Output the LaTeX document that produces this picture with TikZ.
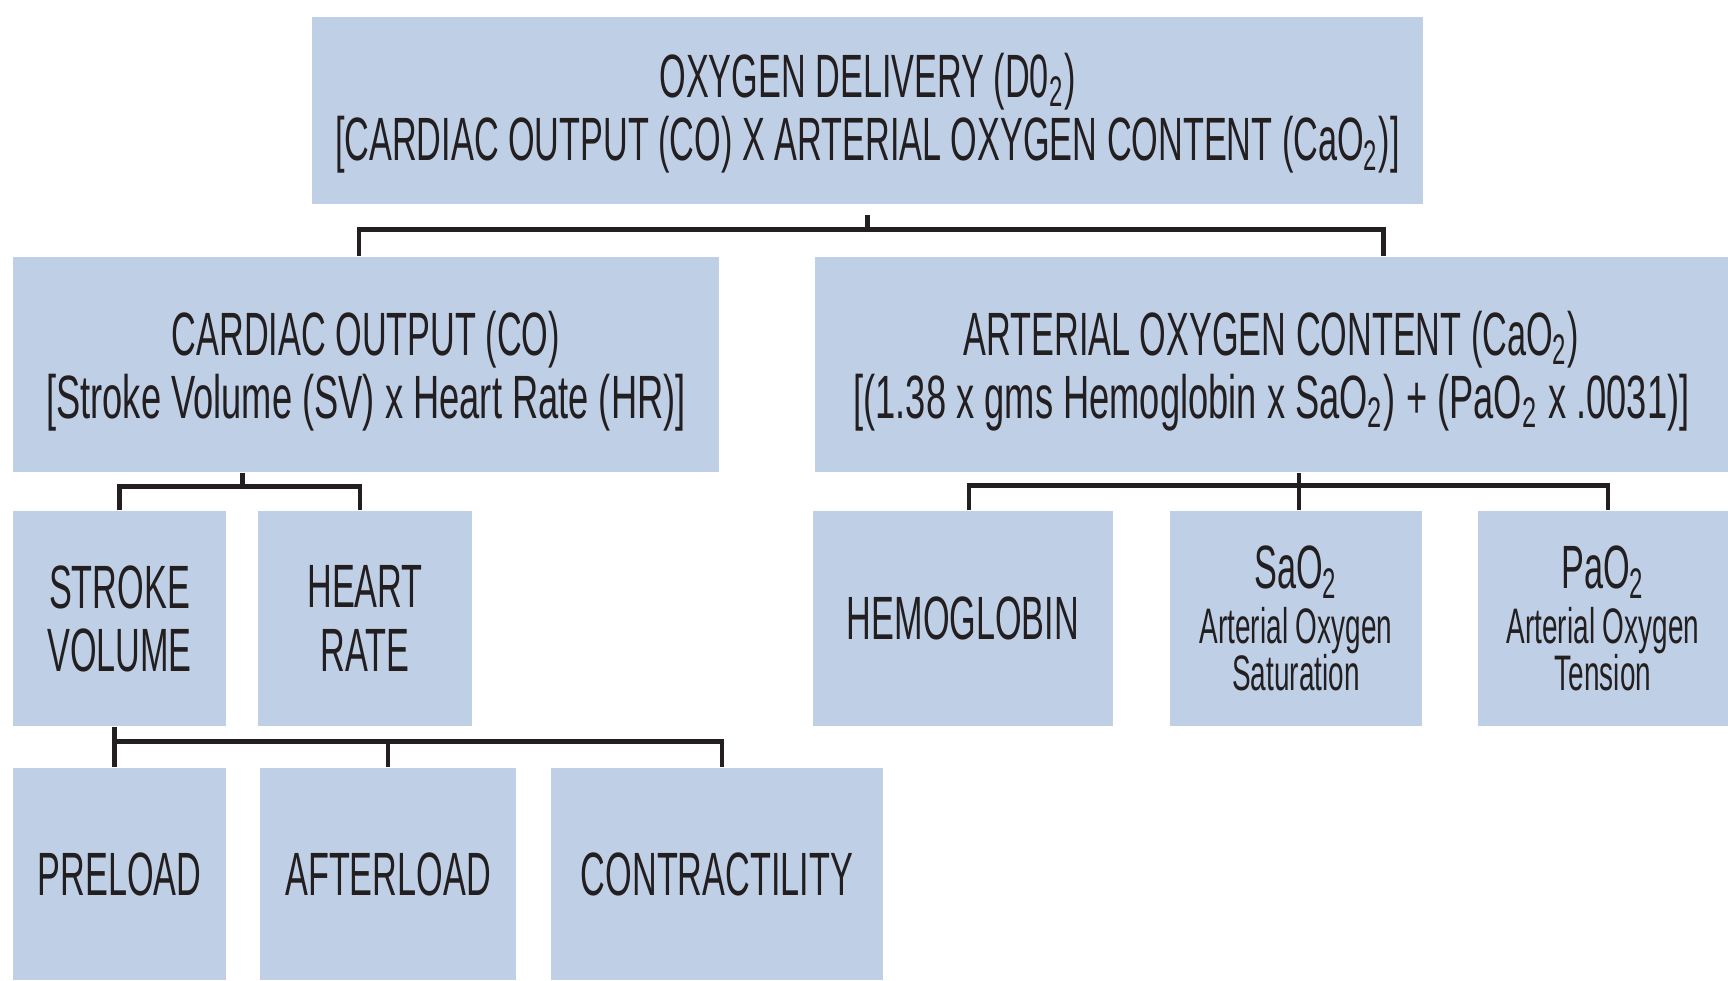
\documentclass[tikz,border=0pt]{standalone}
\usepackage{fontspec}
\setmainfont{Liberation Sans}[FakeStretch=0.56]
\usepackage{xcolor}
\usepackage{graphicx}
\usepackage{tikz}
\usetikzlibrary{calc}
\definecolor{boxblue}{HTML}{BFCFE6}
\definecolor{ink}{HTML}{231F20}
\newcommand{\subtwo}{\textsubscript{2}}
\newcommand{\smalltext}{\fontsize{14.2}{15}\selectfont}
\newcommand{\widerline}[1]{\scalebox{1.06}[1]{#1}}

\begin{document}
\begin{tikzpicture}[
    box/.style={fill=boxblue, text=ink, align=center, inner sep=0pt,
      text depth=-6.5pt, font=\fontsize{17.4}{18}\selectfont},
    link/.style={draw=ink, line width=1.3pt}
  ]
      \useasboundingbox (0,0) rectangle (17.28,-9.80);

      % Top box
      \node[box, text depth=1.9pt, minimum width=11.11cm, minimum height=1.87cm] (top) at (8.675,-1.105)
        {OXYGEN DELIVERY (D0\subtwo)\\
         {[CARDIAC OUTPUT (CO) X ARTERIAL OXYGEN CONTENT (CaO\subtwo)]}};

      % Second row
      \node[box, text depth=0pt, minimum width=7.06cm, minimum height=2.15cm] (co) at (3.66,-3.645)
        {CARDIAC OUTPUT (CO)\\ \widerline{[Stroke Volume (SV) x Heart Rate (HR)]}};
      \node[box, text depth=0pt, minimum width=9.13cm, minimum height=2.15cm] (cao) at (12.715,-3.645)
        {ARTERIAL OXYGEN CONTENT (CaO\subtwo)\\
         \widerline{[(1.38 x gms Hemoglobin x SaO\subtwo) + (PaO\subtwo{} x .0031)]}};

      % Third row
      \node[box, minimum width=2.13cm, minimum height=2.15cm] (sv) at (1.195,-6.185)
        {STROKE\\ VOLUME};
      \node[box, minimum width=2.14cm, minimum height=2.15cm] (hr) at (3.65,-6.185)
        {HEART\\ RATE};
      \node[box, text depth=-4.5pt, minimum width=3.00cm, minimum height=2.15cm] (hemo) at (9.63,-6.185)
        {HEMOGLOBIN};
      \node[box, text depth=-4.5pt, minimum width=2.52cm, minimum height=2.15cm] (sao) at (12.96,-6.185)
        {SaO\subtwo\\[-2.4pt] {\smalltext Arterial Oxygen}\\[-4.6pt] {\smalltext Saturation}};
      \node[box, text depth=-4.5pt, minimum width=2.50cm, minimum height=2.15cm] (pao) at (16.03,-6.185)
        {PaO\subtwo\\[-2.4pt] {\smalltext Arterial Oxygen}\\[-4.6pt] {\smalltext Tension}};

      % Bottom row
      \node[box, minimum width=2.13cm, minimum height=2.12cm] (pre) at (1.195,-8.74)
        {PRELOAD};
      \node[box, minimum width=2.56cm, minimum height=2.12cm] (after) at (3.88,-8.74)
        {AFTERLOAD};
      \node[box, minimum width=3.32cm, minimum height=2.12cm] (contr) at (7.17,-8.74)
        {CONTRACTILITY};

      % Draw top bracket
      \draw[link] ([yshift=-1mm]top.south) -- ++(0,-0.15) coordinate (t1);
      \draw[link] ([xshift=-0.07cm]co.north) |- (t1) -| ([xshift=1.12cm]cao.north);

      % Draw cardiac output bracket
      \coordinate (c1) at ($(sv.north)!0.5!(hr.north)+(0,0.24)$);
      \draw[link] (c1 |- co.south) -- (c1);
      \draw[link] (sv.north) |- (c1) -| ([xshift=-0.05cm]hr.north);

      % Draw oxygen content bracket
      \draw[link] ([xshift=0.03cm]cao.south -| sao.north) -- ([xshift=0.03cm]sao.north);
      \draw[link] ([xshift=0.06cm]hemo.north) |- ([yshift=0.25cm]sao.north) -| ([xshift=0.05cm]pao.north);

      % Draw stroke volume bracket
      \draw[link] ([xshift=-0.05cm]sv.south) -- ([xshift=-0.05cm]pre.north) coordinate (p1);
      \draw[link] (p1) ++(0,0.26) coordinate (s1) -| ([xshift=0.05cm]contr.north);
      \draw[link] (after.north) -- (after.north |- s1);
    \end{tikzpicture}
\end{document}
